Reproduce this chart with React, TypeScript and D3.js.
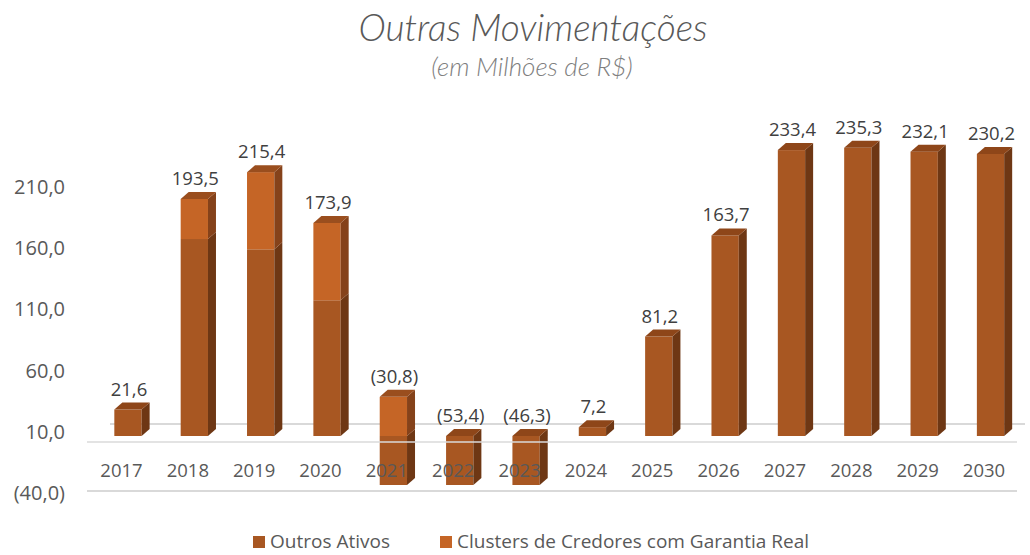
import React from "react";
import * as d3 from "d3";

const years = ["2017","2018","2019","2020","2021","2022","2023","2024","2025","2026","2027","2028","2029","2030"];
const outrosAtivos = [21.6, 160.8, 152.4, 110.8, -62.8, -53.4, -46.3, 7.2, 81.2, 163.7, 233.4, 235.3, 232.1, 230.2];
const clusters = [0, 32.7, 63.0, 63.1, 32.0, 0, 0, 0, 0, 0, 0, 0, 0, 0];
const yTicks = [-40, 10, 60, 110, 160, 210];
const yMin = -40;
const yMax = 260;
const seriesNames = ["Outros Ativos", "Clusters de Credores com Garantia Real"];

const W = 1030, H = 555;
const FONT = "'Open Sans', 'Noto Sans', sans-serif";

const faces = [
  { front: "#A85722", side: "#6E3714", top: "#8E4619" },
  { front: "#C56526", side: "#85421A", top: "#9A4E1E" },
];

const fmt = (v: number) => {
  const s = Math.abs(v).toFixed(1).replace(".", ",");
  return v < 0 ? `(${s})` : s;
};

export default function App() {
  const y = d3.scaleLinear().domain([yMin, yMax]).range([485, 436 - yMax * 1.225]);
  const x = d3.scaleBand<string>().domain(years).range([88.3, 1017.2]).padding(0);
  const bw = 27.3, dx = 8, dy = 7, barShift = 6.5;
  const clampV = (v: number) => Math.max(yMin, Math.min(yMax, v));

  const bars: React.ReactNode[] = [];
  const labels: React.ReactNode[] = [];
  years.forEach((yr, i) => {
    const cx = x(yr)! + x.bandwidth() / 2 + barShift;
    const x0 = cx - bw / 2, x1 = x0 + bw;
    const vals = [outrosAtivos[i], clusters[i]];
    let pos = 0, neg = 0;
    const segs: { s: number; a: number; b: number }[] = [];
    vals.forEach((v, s) => {
      if (v === 0) return;
      if (v > 0) { segs.push({ s, a: pos, b: pos + v }); pos += v; }
      else { segs.push({ s, a: neg, b: neg + v }); neg += v; }
    });
    const topVal = pos > 0 ? pos : 0;
    const order = [...segs].sort((p, q) => Math.min(p.a, p.b) - Math.min(q.a, q.b));
    order.forEach((g, k) => {
      const lo = clampV(Math.min(g.a, g.b)), hi = clampV(Math.max(g.a, g.b));
      const yt = y(hi), yb = y(lo);
      const c = faces[g.s];
      bars.push(
        <g key={`${yr}-${k}`}>
          <rect x={x0} y={yt} width={bw} height={yb - yt} fill={c.front} />
          <polygon points={`${x1},${yt} ${x1 + dx},${yt - dy} ${x1 + dx},${yb - dy} ${x1},${yb}`} fill={c.side} />
          {hi === topVal && (
            <polygon points={`${x0},${yt} ${x0 + dx},${yt - dy} ${x1 + dx},${yt - dy} ${x1},${yt}`} fill={c.top} />
          )}
        </g>
      );
    });
    const total = vals.reduce((a, b) => a + b, 0);
    labels.push(
      <text key={`l${yr}`} x={cx + 1} y={y(topVal) - 14} textAnchor="middle" fontSize={18.5} fill="#404040" fontFamily={FONT}>
        {fmt(total)}
      </text>
    );
  });

  return (
    <svg width={W} height={H} style={{ position: "absolute", left: 0, top: 0, background: "#fff" }}>
      <text x={533} y={41} textAnchor="middle" fontSize={37} fontStyle="italic" fontWeight={300} fill="#595959" fontFamily="Lato, 'Open Sans', sans-serif">
        Outras Movimentações
      </text>
      <text x={532} y={76} textAnchor="middle" fontSize={26} fontStyle="italic" fontWeight={300} fill="#7F7F7F" fontFamily="Lato, 'Open Sans', sans-serif">
        (em Milhões de R$)
      </text>

      <line x1={110} x2={1025} y1={y(0) - 12} y2={y(0) - 12} stroke="#D9D9D9" strokeWidth={2} />

      {bars}

      <line x1={87} x2={1017} y1={y(0) + 6} y2={y(0) + 6} stroke="#D9D9D9" strokeWidth={2} strokeOpacity={0.75} />
      <line x1={87} x2={1017} y1={y(yMin) + 6} y2={y(yMin) + 6} stroke="#D9D9D9" strokeWidth={2} />

      {yTicks.map((t) => (
        <text key={t} x={65} y={y(t) + 8} dy="0.35em" textAnchor="end" fontSize={20} fill="#595959" fontFamily={FONT}>
          {fmt(t)}
        </text>
      ))}

      {years.map((yr) => (
        <text key={yr} x={x(yr)! + x.bandwidth() / 2} y={471} dy="0.35em" textAnchor="middle" fontSize={18.5} fill="#595959" fontFamily={FONT}>
          {yr}
        </text>
      ))}

      {labels}

      <g fontFamily={FONT} fontSize={19} fill="#595959">
        <rect x={253} y={536} width={12} height={12} fill={faces[0].front} />
        <text x={270} y={541} dy="0.35em">{seriesNames[0]}</text>
        <rect x={440} y={536} width={12} height={12} fill={faces[1].front} />
        <text x={457} y={541} dy="0.35em">{seriesNames[1]}</text>
      </g>
    </svg>
  );
}
